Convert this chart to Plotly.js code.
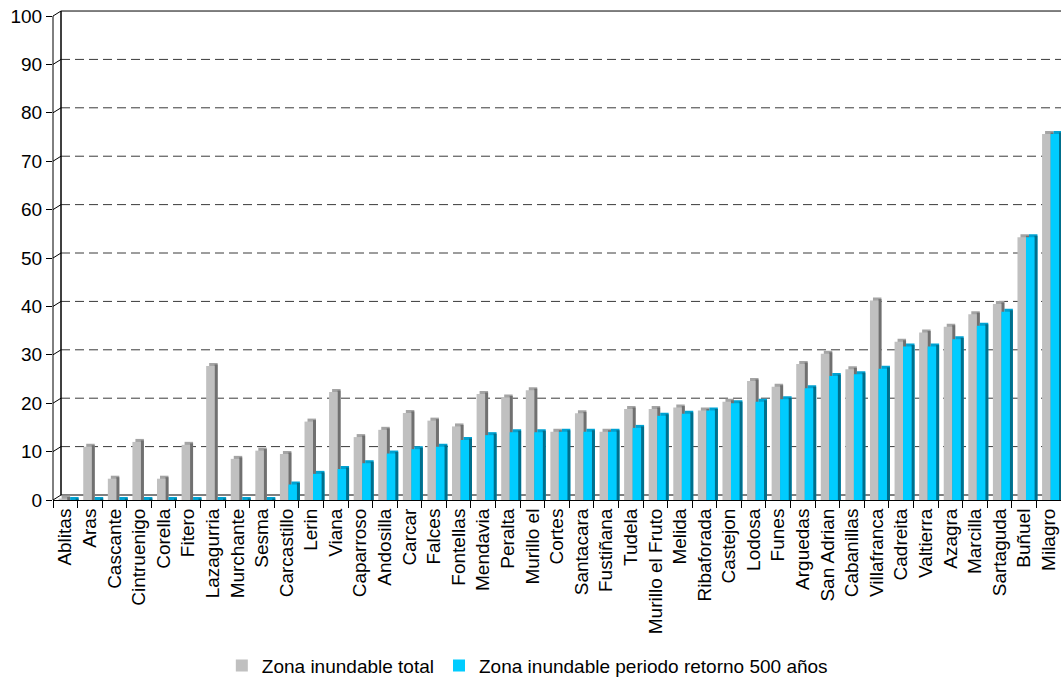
<!DOCTYPE html>
<html>
<head>
<meta charset="utf-8">
<script src="https://cdn.plot.ly/plotly-3.0.1.min.js"></script>
<style>html,body{margin:0;padding:0;background:#fff;}#chart{width:1061px;height:680px;}</style>
</head>
<body>
<div id="chart"></div>
<script>
const categories = ["Ablitas","Aras","Cascante","Cintruenigo","Corella","Fitero","Lazagurria","Murchante","Sesma","Carcastillo","Lerin","Viana","Caparroso","Andosilla","Carcar","Falces","Fontellas","Mendavia","Peralta","Murillo el","Cortes","Santacara","Fustiñana","Tudela","Murillo el Fruto","Melida","Ribaforada","Castejon","Lodosa","Funes","Arguedas","San Adrian","Cabanillas","Villafranca","Cadreita","Valtierra","Azagra","Marcilla","Sartaguda","Buñuel","Milagro"];
const totalValues = [0.3,11.0,4.4,12.0,4.4,11.4,27.7,8.5,10.2,9.5,16.2,22.3,13.0,14.5,18.0,16.4,15.2,21.9,21.2,22.7,14.1,17.9,14.1,18.8,18.8,19.1,18.5,20.3,24.6,23.4,28.1,30.2,27.0,41.2,32.7,34.6,35.8,38.4,40.5,54.3,75.6];
const retorno500Values = [0,0,0,0,0,0,0,0,0,3.2,5.4,6.4,7.6,9.6,10.5,11.0,12.4,13.4,14.0,14.0,14.1,14.1,14.1,14.9,17.4,17.8,18.5,20.0,20.3,20.8,23.1,25.6,26.0,27.1,31.7,31.7,33.2,36.0,38.9,54.3,75.6];
const seriesNames = ["Zona inundable total","Zona inundable periodo retorno 500 años"];
const yTickValues = [0,10,20,30,40,50,60,70,80,90,100];

// styling / 3D look
const FONT = "Liberation Sans, Arial, sans-serif";
const FONT_SIZE = 19;
const depthX = 0.122;   // category units (~3px)
const depthY = 0.62;    // value units (~3px)
const frontW = 0.345;
const greyOffset = -0.27;
const blueOffset = greyOffset + frontW;
const colors = {
  grey: {front:"#c0c0c0", top:"#a4a4a4", side:"#707070"},
  blue: {front:"#00ccff", top:"#00a2d2", side:"#006f8c"}
};

function layers(values, offset, col, name) {
  const top = values.map(v => v + depthY);
  const side = values.map(v => v + depthY / 2);
  const common = {type:"bar", x:categories, hoverinfo:"skip"};
  return [
    Object.assign({}, common, {y:top, base:0, offset:offset + depthX, width:frontW, marker:{color:col.top, line:{width:0}}, showlegend:false}),
    Object.assign({}, common, {y:side, base:0, offset:offset + frontW, width:depthX, marker:{color:col.side, line:{width:0}}, showlegend:false}),
    Object.assign({}, common, {y:values, base:0, offset:offset, width:frontW, marker:{color:col.front, line:{width:0}}, name:name, showlegend:true})
  ];
}

const traces = [].concat(
  layers(totalValues, greyOffset, colors.grey, seriesNames[0]),
  layers(retorno500Values, blueOffset, colors.blue, seriesNames[1])
);

const wallDx = 8 / 1008; // back wall shift in paper units
const shapes = [];
yTickValues.forEach(v => {
  const solid = (v === 0 || v === 100);
  shapes.push({type:"line", layer:"below", xref:"paper", x0:wallDx, x1:1,
    yref:"y", ysizemode:"pixel", yanchor:v, y0:5, y1:5,
    line:{color:solid ? "#000" : "#3a3a3a", width:1, dash:solid ? "solid" : "9px,5px"}});
  shapes.push({type:"line", layer:"below", xref:"paper", xsizemode:"pixel", xanchor:0, x0:0, x1:8,
    yref:"y", ysizemode:"pixel", yanchor:v, y0:0, y1:5,
    line:{color:"#000", width:1}});
});
shapes.push({type:"line", layer:"below", xref:"paper", x0:wallDx, x1:wallDx,
  yref:"y", ysizemode:"pixel", yanchor:0, y0:5, y1:489, line:{color:"#000", width:1.5}});
shapes.push({type:"line", layer:"above", xref:"paper", x0:0, x1:0,
  yref:"y", y0:0, y1:100, line:{color:"#000", width:1}});

const layout = {
  width:1061, height:680,
  margin:{l:53, r:0, t:9, b:180, pad:0},
  paper_bgcolor:"#ffffff", plot_bgcolor:"#ffffff",
  barmode:"overlay",
  font:{family:FONT, size:FONT_SIZE, color:"#000"},
  showlegend:true,
  legend:{orientation:"h", xref:"container", yref:"container", x:0.497, xanchor:"center", y:0.021, yanchor:"middle",
    font:{family:FONT, size:FONT_SIZE, color:"#000"}, itemwidth:30, tracegroupgap:0},
  xaxis:{type:"category", range:[-0.5, categories.length - 0.5], tickangle:-90,
    tickmode:"linear", dtick:1, tickson:"boundaries", ticks:"outside", ticklen:7, tickcolor:"#000",
    showline:true, linecolor:"#000", linewidth:1, showgrid:false, zeroline:false, automargin:false,
    tickfont:{family:FONT, size:FONT_SIZE, color:"#000"}, fixedrange:true},
  yaxis:{range:[0, 101.45], tickmode:"array", tickvals:yTickValues, ticktext:yTickValues.map(String),
    ticks:"outside", ticklen:6, tickcolor:"#000", showline:false, showgrid:false, zeroline:false, automargin:false,
    tickfont:{family:FONT, size:FONT_SIZE, color:"#000"}, fixedrange:true},
  shapes:shapes
};

Plotly.newPlot("chart", traces, layout, {displayModeBar:false, staticPlot:true});
</script>
</body>
</html>
